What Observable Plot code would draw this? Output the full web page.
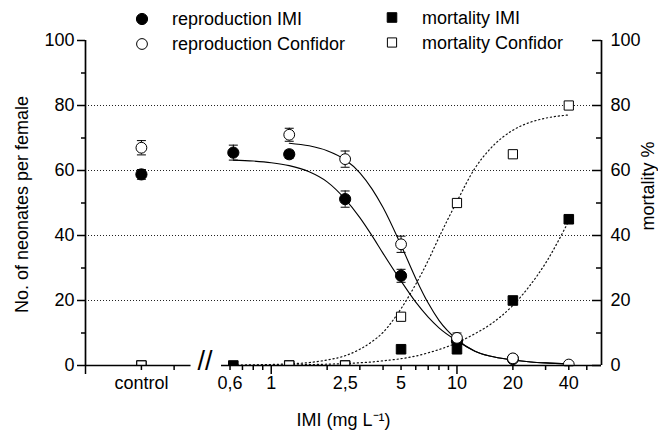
<!DOCTYPE html>
<html><head><meta charset="utf-8">
<script src="https://cdn.jsdelivr.net/npm/d3@7"></script>
<script src="https://cdn.jsdelivr.net/npm/@observablehq/plot@0.6"></script>
<style>
html,body{margin:0;padding:0;background:#fff;}
#wrap{position:relative;width:658px;height:437px;font-family:"Liberation Sans",Arial,sans-serif;}
#legend{position:absolute;left:0;top:0;pointer-events:none;}
</style></head><body><div id="wrap"></div>
<script>
// ---------------- data ----------------
const concentrations = ["control", 0.625, 1.25, 2.5, 5, 10, 20, 40];
const controlPosition = 0.2;               // where "control" sits on the broken log axis
const reproductionIMI        = [58.8, 65.5, 65.0, 51.2, 27.6, 7.5, 2.0, null];
const reproductionIMIErr     = [1.5, 2.3, 1.2, 2.5, 2.0, 1.2, 0.8, null];
const reproductionConfidor   = [67.0, null, 71.0, 63.5, 37.3, 8.5, 2.2, 0.3];
const reproductionConfidorErr= [2.2, null, 2.0, 2.5, 2.5, 1.5, 1.0, 0.4];
const mortalityIMI           = [0, 0, 0, 0, 5, 5, 20, 45];
const mortalityConfidor      = [0, null, 0, 0, 15, 50, 65, 80];

// fitted curves
const fitConcentrations = [0.625, 0.8, 1, 1.25, 1.6, 2, 2.5, 3, 3.5, 4, 5, 6, 7, 8, 10, 12.5, 15, 20, 25, 30, 40];
const fitReproductionIMI      = [63.2, 62.9, 62.4, 61.5, 59.6, 56.5, 51.2, 45.5, 39.8, 34.5, 26.0, 19.5, 14.9, 11.6, 7.6, 4.4, 2.9, 1.7, 1.1, 0.8, 0.5];
const fitReproductionConfidor = [null, null, null, 68.4, 67.6, 66.1, 63.3, 59.3, 54.2, 48.6, 37.0, 26.8, 19.2, 13.9, 8.0, 4.4, 2.9, 1.7, 1.1, 0.8, 0.5];
const fitMortalityIMI         = [0.05, 0.08, 0.12, 0.18, 0.28, 0.4, 0.6, 0.85, 1.1, 1.45, 2.1, 2.9, 3.9, 4.9, 7.0, 9.8, 12.5, 18.5, 25, 31.5, 44.5];
const fitMortalityConfidor    = [0.1, 0.2, 0.3, 0.5, 0.9, 1.7, 3.0, 5.0, 7.4, 10.2, 17.5, 25, 32.3, 39.4, 50.5, 60.7, 66.5, 72.4, 74.9, 76.1, 77.1];

// axes
const xDomain = [0.1, 60];
const xTickValues = [0.2, 0.6, 1, 2.5, 5, 10, 20, 40];
const xTickLabels = ["control", "0,6", "1", "2,5", "5", "10", "20", "40"];
const xMajorTicks = [0.1, 1, 10];
const xMinorTicks = [0.2, 0.3, 0.6, 0.7, 0.8, 0.9, 2, 3, 4, 5, 6, 7, 8, 9, 20, 30, 40, 50];
const axisSegments = [[0.1, 0.37], [0.54, 60]];
const axisBreak = 0.44;
const yTicks = [0, 20, 40, 60, 80, 100];
const yMinorTicks = [10, 30, 50, 70, 90];
const gridValues = [20, 40, 60, 80];
const xTitle = "IMI (mg L\u207B\u00B9)";
const yTitle = "No. of neonates per female";
const y2Title = "mortality %";
const legendLabels = ["reproduction IMI", "reproduction Confidor", "mortality IMI", "mortality Confidor"];

// ---------------- build ----------------
const W = 658, H = 437;
const mL = 85, mR = 57, mT = 40, mB = 72;
const frameW = W - mL - mR;
const pos = c => c === "control" ? controlPosition : c;

const pts = (vals, errs) => concentrations.map((c, i) => ({x: pos(c), y: vals[i], e: errs ? errs[i] : null}))
  .filter(d => d.y != null);
const rIMI = pts(reproductionIMI, reproductionIMIErr);
const rConf = pts(reproductionConfidor, reproductionConfidorErr);
const mIMI = pts(mortalityIMI);
const mConf = pts(mortalityConfidor);
const fit = ys => fitConcentrations.map((x, i) => ({x, y: ys[i]})).filter(d => d.y != null);

const capSymbol = {draw(ctx, size) { const w = Math.sqrt(size / Math.PI); ctx.moveTo(-w, 0); ctx.lineTo(w, 0); }};
const tickLabelRows = xTickValues.map((v, i) => ({x: v, label: xTickLabels[i]}));
const errs = rIMI.concat(rConf).filter(d => d.e != null);

const AW = 1.7;
const chart = Plot.plot({
  width: W, height: H,
  marginLeft: mL, marginRight: mR, marginTop: mT, marginBottom: mB,
  style: {fontFamily: "'Liberation Sans', Arial, sans-serif", fontSize: "18px", color: "black", background: "white", overflow: "visible"},
  x: {type: "log", domain: xDomain},
  y: {domain: [0, 100]},
  marks: [
    Plot.ruleY(gridValues, {stroke: "#222", strokeWidth: 1, strokeDasharray: "1 2"}),
    // mortality fits
    Plot.line(fit(fitMortalityConfidor), {x: "x", y: "y", curve: "monotone-x", stroke: "#111", strokeWidth: 1.2, strokeDasharray: "1.2 2.8"}),
    Plot.line(fit(fitMortalityIMI), {x: "x", y: "y", curve: "monotone-x", stroke: "#111", strokeWidth: 1.2, strokeDasharray: "1.2 2.8"}),
    // reproduction fits
    Plot.line(fit(fitReproductionIMI), {x: "x", y: "y", curve: "monotone-x", stroke: "black", strokeWidth: 1.1}),
    Plot.line(fit(fitReproductionConfidor), {x: "x", y: "y", curve: "monotone-x", stroke: "black", strokeWidth: 1.1}),
    // error bars
    Plot.ruleX(errs, {x: "x", y1: d => d.y - d.e, y2: d => d.y + d.e, stroke: "black", strokeWidth: 1}),
    Plot.dot(errs, {x: "x", y: d => d.y + d.e, symbol: capSymbol, r: 4.5, stroke: "black", fill: "none", strokeWidth: 1}),
    Plot.dot(errs, {x: "x", y: d => d.y - d.e, symbol: capSymbol, r: 4.5, stroke: "black", fill: "none", strokeWidth: 1}),
    // points
    Plot.dot(mIMI, {x: "x", y: "y", symbol: "square", r: 5.4, fill: "black", stroke: "black", strokeWidth: 1, clip: true}),
    Plot.dot(mConf, {x: "x", y: "y", symbol: "square", r: 5.2, fill: "white", stroke: "black", strokeWidth: 1, clip: true}),
    Plot.dot(rIMI, {x: "x", y: "y", symbol: "circle", r: 5.6, fill: "black", stroke: "black", strokeWidth: 1, clip: true}),
    Plot.dot(rConf, {x: "x", y: "y", symbol: "circle", r: 5.4, fill: "white", stroke: "black", strokeWidth: 1, clip: true}),
    // axis lines
    Plot.ruleX([xDomain[0], xDomain[1]], {y1: 0, y2: 100, stroke: "black", strokeWidth: AW}),
    Plot.ruleY(axisSegments, {y: () => 0, x1: d => d[0], x2: d => d[1], stroke: "black", strokeWidth: AW}),
    Plot.text(["//"], {x: () => axisBreak, frameAnchor: "bottom", dy: 4, text: d => d, fontSize: 27, letterSpacing: 0.5}),
    // x axis ticks and labels
    Plot.axisX(xMajorTicks, {tickSize: 9, fill: "none", strokeWidth: 1.5}),
    Plot.axisX(xMinorTicks, {tickSize: 5, fill: "none", strokeWidth: 1.5}),
    Plot.text(tickLabelRows, {x: "x", text: "label", frameAnchor: "bottom", dy: 23, fontSize: 18}),
    // left y axis
    Plot.axisY(yTicks, {anchor: "left", tickSize: 8, tickPadding: 3, strokeWidth: 1.5, fontSize: 18, label: null}),
    Plot.axisY(yMinorTicks, {anchor: "left", tickSize: 4, strokeWidth: 1.5, fill: "none"}),
    // right y axis (ticks point inward)
    Plot.tickY(yTicks, {y: d => d, insetLeft: frameW - 9, stroke: "black", strokeWidth: 1.5}),
    Plot.tickY(yMinorTicks, {y: d => d, insetLeft: frameW - 5, stroke: "black", strokeWidth: 1.5}),
    Plot.axisY(yTicks, {anchor: "right", tickSize: 0, tickPadding: 9, fontSize: 18, label: null}),
    // axis titles
    Plot.text([xTitle], {frameAnchor: "bottom", dy: 60, text: d => d, fontSize: 18, textAnchor: "middle"}),
    Plot.text([yTitle], {frameAnchor: "left", dx: -63, dy: 1.5, rotate: -90, text: d => d, fontSize: 18, textAnchor: "middle"}),
    Plot.text([y2Title], {frameAnchor: "right", dx: 47, dy: -17, rotate: -90, text: d => d, fontSize: 18, textAnchor: "middle"})
  ]
});
const wrap = document.getElementById("wrap");
wrap.appendChild(chart);

// legend overlay
const leg = d3.select(wrap).append("svg").attr("id", "legend").attr("width", W).attr("height", 60);
const colX = [142, 392], rowY = [19, 44];
const kinds = [
  {sym: d3.symbolCircle, r: 5.6, fill: "black"},
  {sym: d3.symbolCircle, r: 5.4, fill: "white"},
  {sym: d3.symbolSquare, r: 5.4, fill: "black"},
  {sym: d3.symbolSquare, r: 5.2, fill: "white"}
];
legendLabels.forEach((label, i) => {
  const cx = colX[Math.floor(i / 2)], cy = rowY[i % 2] - (i >= 2 ? 1.5 : 0);
  const k = kinds[i];
  leg.append("path").attr("d", d3.symbol(k.sym, k.r * k.r * Math.PI)())
    .attr("transform", `translate(${cx},${cy})`).attr("fill", k.fill).attr("stroke", "black").attr("stroke-width", 1);
  leg.append("text").attr("x", cx + 30).attr("y", cy).attr("dy", "0.35em")
    .attr("font-family", "'Liberation Sans', Arial, sans-serif").attr("font-size", 18).attr("fill", "black").text(label);
});
</script></body></html>
